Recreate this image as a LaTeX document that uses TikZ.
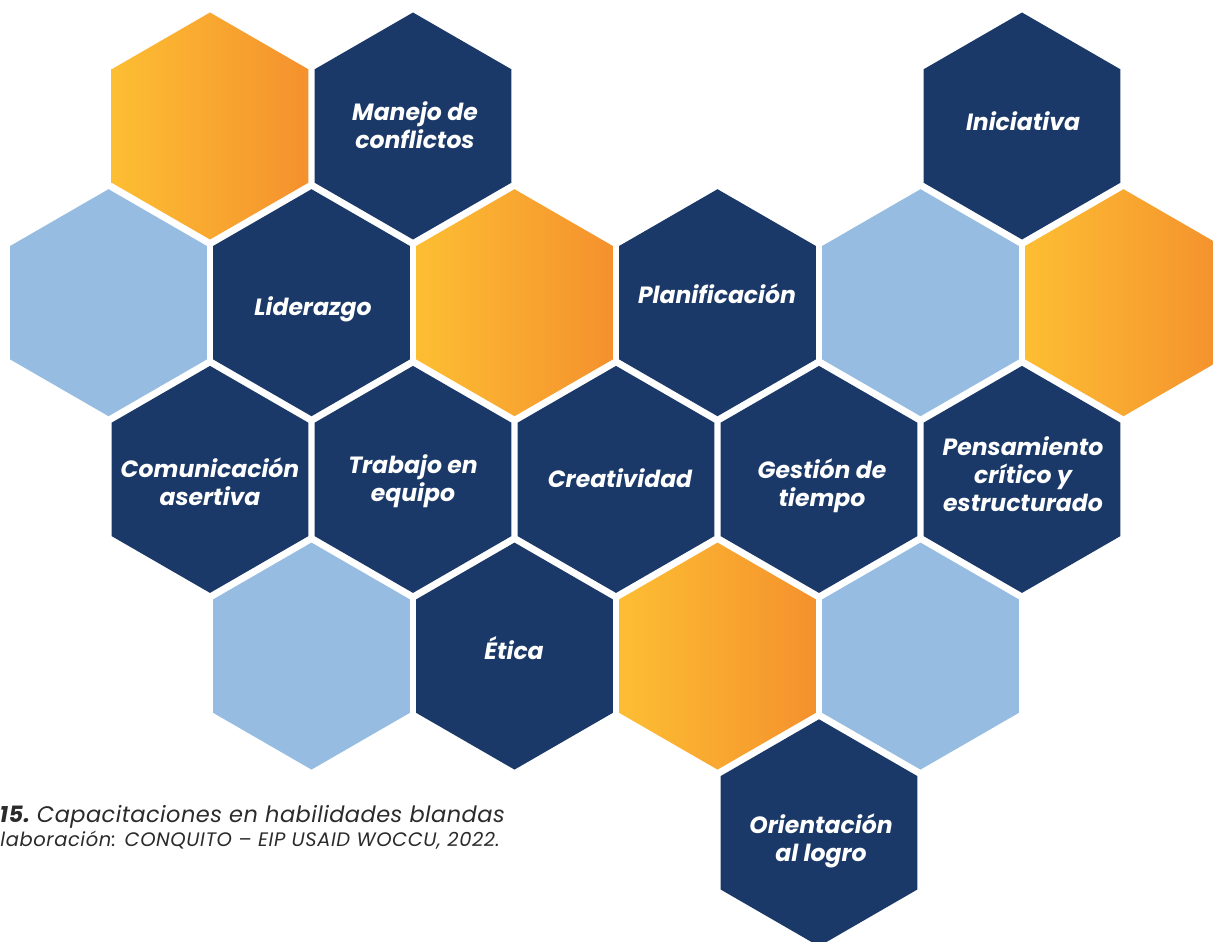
\documentclass[tikz,border=0pt]{standalone}
\usepackage{fontspec}
\setmainfont{Poppins}
\usetikzlibrary{shapes.geometric}
\definecolor{navy}{HTML}{1B3968}
\definecolor{lblue}{HTML}{97BCE2}
\definecolor{gyel}{HTML}{FDBE33}
\definecolor{gorg}{HTML}{F4912D}
\definecolor{capgray}{HTML}{2B2B2B}
\begin{document}
\begin{tikzpicture}[x=1pt,y=-1pt,
  hex/.style={regular polygon, regular polygon sides=6, shape border rotate=30,
    minimum size=227pt, inner sep=0pt, draw=none},
  dark/.style={hex, fill=navy},
  light/.style={hex, fill=lblue},
  warm/.style={hex, left color=gyel, right color=gorg},
  lbl/.style={anchor=base, align=center, text=white, inner sep=0pt,
    font=\fontsize{23.5}{28}\selectfont\bfseries\itshape},
  captxt/.style={anchor=base east, inner sep=0pt, text=capgray},
]
\clip (0,0) rectangle (1213,942);
\fill[white] (0,0) rectangle (1213,942);
% row 1
\node[warm]  (h11) at (210,126) {};
\node[dark]  (h12) at (413,126) {};
\node[dark]  (h15) at (1022,126) {};
% row 2
\node[light] (h21) at (108.5,302.7) {};
\node[dark]  (h22) at (311.5,302.7) {};
\node[warm]  (h23) at (514.5,302.7) {};
\node[dark]  (h24) at (717.5,302.7) {};
\node[light] (h25) at (920.5,302.7) {};
\node[warm]  (h26) at (1123.5,302.7) {};
% row 3
\node[dark]  (h31) at (210,479.4) {};
\node[dark]  (h32) at (413,479.4) {};
\node[dark]  (h33) at (616,479.4) {};
\node[dark]  (h34) at (819,479.4) {};
\node[dark]  (h35) at (1022,479.4) {};
% row 4
\node[light] (h41) at (311.5,656.1) {};
\node[dark]  (h42) at (514.5,656.1) {};
\node[warm]  (h43) at (717.5,656.1) {};
\node[light] (h44) at (920.5,656.1) {};
% row 5
\node[dark]  (h51) at (819,832.8) {};
% labels (base = baseline of last line)
\node[lbl] (t12) at (415,148) {Manejo de\\conflictos};
\node[lbl] (t15) at (1023,130) {Iniciativa};
\node[lbl] (t22) at (313,315) {Liderazgo};
\node[lbl] (t24) at (717,303) {Planificación};
\node[lbl] (t31) at (210,505) {Comunicación\\asertiva};
\node[lbl] (t32) at (413,501) {Trabajo en\\equipo};
\node[lbl] (t33) at (620,487) {Creatividad};
\node[lbl] (t34) at (822,506) {Gestión de\\tiempo};
\node[lbl] (t35) at (1023,511) {Pensamiento\\crítico y\\estructurado};
\node[lbl] (t42) at (514,659) {Ética};
\node[lbl] (t51) at (821,861) {Orientación\\al logro};
% caption
\node[captxt, font=\fontsize{22.5}{26}\selectfont\addfontfeatures{LetterSpace=2}] (c1) at (505,822) {\textbf{\itshape 15.}~\itshape Capacitaciones en habilidades blandas};
\node[captxt, font=\fontsize{19.5}{23}\selectfont\itshape\addfontfeatures{LetterSpace=3}] (c2) at (500,846) {laboración: CONQUITO – EIP USAID WOCCU, 2022.};
\end{tikzpicture}
\end{document}
